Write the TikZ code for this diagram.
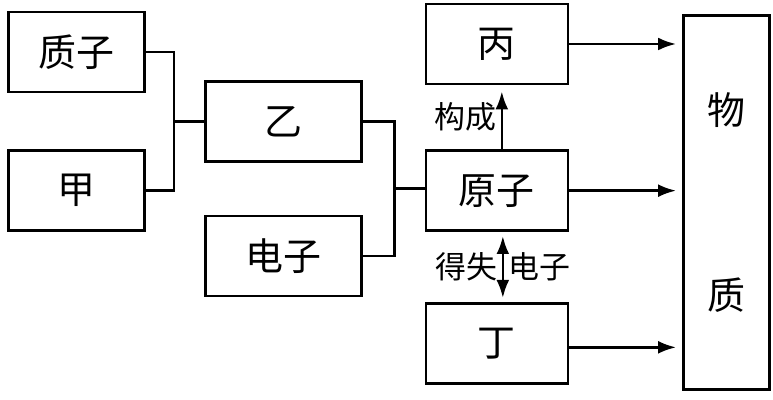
\documentclass[tikz,border=0pt]{standalone}
\usepackage{fontspec}
\newfontfamily\cjk{Noto Sans CJK SC}
\usetikzlibrary{arrows.meta, positioning, calc}

\begin{document}
\begin{tikzpicture}[
  box/.style={draw, line width=1.9pt, minimum height=20mm, align=center, font=\cjk\fontsize{27}{32}\selectfont},
  lab/.style={font=\cjk\fontsize{22}{26}\selectfont, inner sep=1mm},
  line/.style={line width=1.9pt},
  arrow/.style={line, -{Latex[length=4.5mm, width=3.2mm]}, shorten >=1.5mm}
]
\useasboundingbox (-19.125mm,13mm) rectangle (174.125mm,-87mm);

\node[box, minimum width=34mm] (zhizi) at (0,0) {质子};
\node[box, minimum width=34mm, below=14mm of zhizi] (jia) {甲};

\coordinate (j1) at ($(zhizi.east)!.5!(jia.east)+(7mm,0)$);
\node[box, minimum width=39mm, right=7.5mm of j1] (yi) {乙};
\node[box, minimum width=39mm, below=13mm of yi] (dianzi) {电子};

\coordinate (j2) at ($(yi.east)!.5!(dianzi.east)+(8mm,0)$);
\node[box, minimum width=35.5mm, right=7.5mm of j2, yshift=-0.5mm] (yuanzi) {原子};
\node[box, minimum width=35.5mm, above=16mm of yuanzi] (bing) {丙};
\node[box, minimum width=35.5mm, below=17.5mm of yuanzi] (ding) {丁};

\node[box, minimum width=21.5mm, minimum height=93.5mm, right=28.25mm of yuanzi, yshift=-3mm] (wuzhi) {物\\[35mm]质};

% brackets
\draw[line] (zhizi.east) -| (j1) |- (jia.east);
\draw[line] (j1) -- (yi);
\draw[line] (yi.east) -| (j2) |- (dianzi.east);
\draw[line] (j2) -- (j2 -| yuanzi.west);

\draw[arrow] (bing) -- (bing -| wuzhi.west);
\draw[arrow] (yuanzi) -- (yuanzi -| wuzhi.west);
\draw[arrow] ([yshift=-1mm]ding.east) -- ([yshift=-1mm]ding.east -| wuzhi.west);

\draw[arrow] ([xshift=1.25mm]yuanzi.north) -- ([xshift=1.25mm]yuanzi.north |- bing.south)
  node[lab, midway, left] {构成};
\draw[line, {Latex[length=4.5mm, width=3.2mm]}-{Latex[length=4.5mm, width=3.2mm]}, shorten >=1mm, shorten <=1mm]
  ([xshift=1.5mm]yuanzi.south) -- ([xshift=1.5mm]yuanzi.south |- ding.north)
  node[lab, midway, left] {得失} node[lab, midway, right] {电子};
\end{tikzpicture}
\end{document}
